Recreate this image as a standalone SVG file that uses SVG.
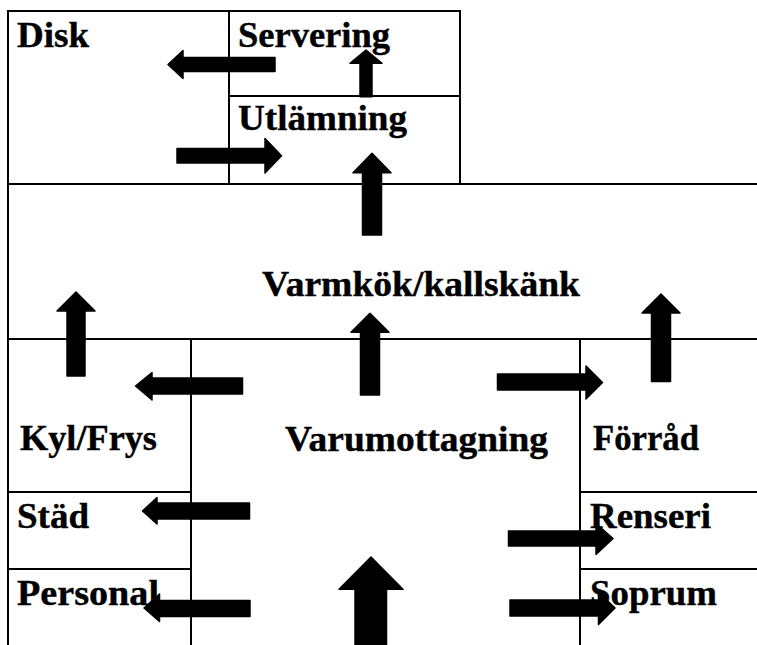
<svg xmlns="http://www.w3.org/2000/svg" width="757" height="645" viewBox="0 0 757 645">
<style>
.room{fill:none;stroke:#000;stroke-width:2}
.lbl{font-family:"Liberation Serif","Times New Roman",serif;font-weight:bold;font-size:35px;fill:#000;stroke:#000;stroke-width:0.4}
.arr{fill:#000;stroke:#000;stroke-width:1.5;stroke-linejoin:round}
</style>
<rect width="757" height="645" fill="#fff"/>
<g id="disk"><rect class="room" x="8" y="11" width="221" height="173"/><text class="lbl" x="17" y="46.5" textLength="72" lengthAdjust="spacingAndGlyphs">Disk</text></g>
<g id="servering"><rect class="room" x="229" y="11" width="231" height="85"/><text class="lbl" x="238" y="46.5" textLength="152" lengthAdjust="spacingAndGlyphs">Servering</text></g>
<g id="utlamning"><rect class="room" x="229" y="96" width="231" height="88"/><text class="lbl" x="238" y="130" textLength="169" lengthAdjust="spacingAndGlyphs">Utlämning</text></g>
<g id="varmkok"><rect class="room" x="8" y="184" width="760" height="155"/><text class="lbl" x="262" y="296" textLength="318" lengthAdjust="spacingAndGlyphs">Varmkök/kallskänk</text></g>
<g id="kylfrys"><rect class="room" x="8" y="339" width="183" height="153"/><text class="lbl" x="20" y="450" textLength="137" lengthAdjust="spacingAndGlyphs">Kyl/Frys</text></g>
<g id="stad"><rect class="room" x="8" y="492" width="183" height="77"/><text class="lbl" x="17" y="528" textLength="72" lengthAdjust="spacingAndGlyphs">Städ</text></g>
<g id="personal"><rect class="room" x="8" y="569" width="183" height="90"/><text class="lbl" x="17" y="605" textLength="142" lengthAdjust="spacingAndGlyphs">Personal</text></g>
<g id="varumottagning"><rect class="room" x="191" y="339" width="389" height="320"/><text class="lbl" x="285" y="450.5" textLength="263" lengthAdjust="spacingAndGlyphs">Varumottagning</text></g>
<g id="forrad"><rect class="room" x="580" y="339" width="190" height="153"/><text class="lbl" x="593" y="450" textLength="106" lengthAdjust="spacingAndGlyphs">Förråd</text></g>
<g id="renseri"><rect class="room" x="580" y="492" width="190" height="77"/><text class="lbl" x="590" y="528" textLength="121" lengthAdjust="spacingAndGlyphs">Renseri</text></g>
<g id="soprum"><rect class="room" x="580" y="569" width="190" height="90"/><text class="lbl" x="590" y="605" textLength="127" lengthAdjust="spacingAndGlyphs">Soprum</text></g>
<g id="connectors">
<polygon class="arr" points="168,64.5 183,50.5 183,57.5 275,57.5 275,71.5 183,71.5 183,78.5"/>
<polygon class="arr" points="366,50 382,63.3 372,63.3 372,96.7 360,96.7 360,63.3 350,63.3"/>
<polygon class="arr" points="177,148.5 265,148.5 265,138.5 281.5,155.8 265,173 265,163 177,163"/>
<polygon class="arr" points="372,153.3 391,172.7 381.5,172.7 381.5,235 362.5,235 362.5,172.7 353,172.7"/>
<polygon class="arr" points="370,313.3 389,332.3 379.5,332.3 379.5,395 360.5,395 360.5,332.3 351,332.3"/>
<polygon class="arr" points="76,292 95,311 85,311 85,376 67,376 67,311 57,311"/>
<polygon class="arr" points="661,294 680,313 670.5,313 670.5,381.5 651.5,381.5 651.5,313 642,313"/>
<polygon class="arr" points="135.5,386 152,372.5 152,378 242.5,378 242.5,394 152,394 152,400"/>
<polygon class="arr" points="497.5,374 586,374 586,366 602.5,382.5 586,399 586,390 497.5,390"/>
<polygon class="arr" points="142.5,511 157,497.5 157,503 249.5,503 249.5,519 157,519 157,524"/>
<polygon class="arr" points="144,608 159.5,594 159.5,600.5 250,600.5 250,616.5 159.5,616.5 159.5,621.5"/>
<polygon class="arr" points="508.5,531 596,531 596,523.5 613,538.5 596,554.5 596,546 508.5,546"/>
<polygon class="arr" points="510,600 598.5,600 598.5,592 615,608 598.5,624.5 598.5,616 510,616"/>
<polygon class="arr" points="371,557 403,589.3 386.5,589.3 386.5,646 355,646 355,589.3 339,589.3"/>
</g>
</svg>
